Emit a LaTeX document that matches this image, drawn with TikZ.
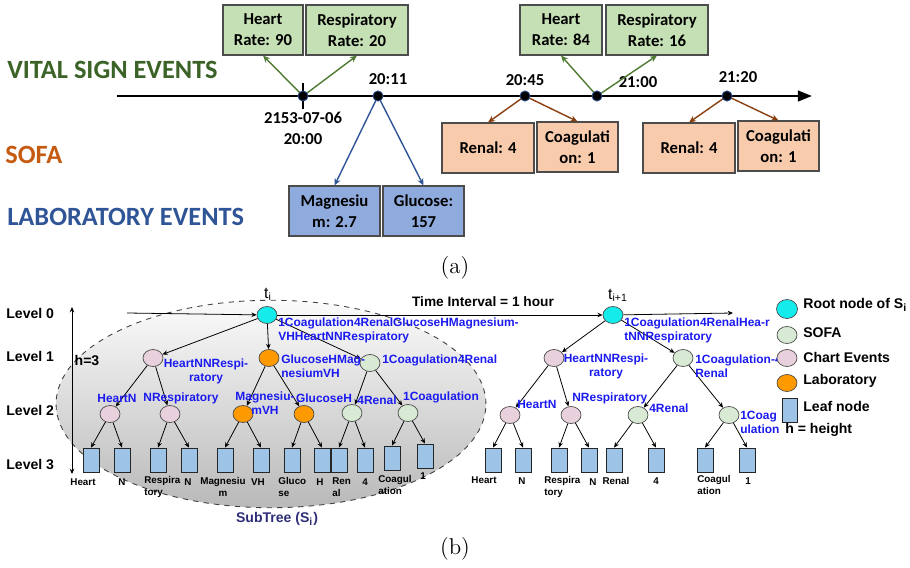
\documentclass[tikz,border=0pt]{standalone}
\usepackage{fontspec}
\setsansfont{Liberation Sans}
\newfontfamily\calibri{Carlito}
\usetikzlibrary{positioning,arrows.meta,shapes.geometric}
\definecolor{vitalgreen}{HTML}{3B6327}
\definecolor{vitalfill}{HTML}{C5E0B4}
\definecolor{vitalarrow}{HTML}{4F7A32}
\definecolor{sofaorange}{HTML}{C55A11}
\definecolor{sofafill}{HTML}{F8CBAD}
\definecolor{sofaarrow}{HTML}{8A3F10}
\definecolor{labblue}{HTML}{2F5597}
\definecolor{labfill}{HTML}{8FAADC}
\definecolor{rootcyan}{HTML}{14ECEC}
\definecolor{chartpink}{HTML}{E8D0DC}
\definecolor{sofagreen}{HTML}{D8EAD4}
\definecolor{laborange}{HTML}{FF9900}
\definecolor{leafblue}{HTML}{9DC3E6}
\definecolor{keyblue}{HTML}{1A1AF0}
\definecolor{subtreenavy}{HTML}{2E2E78}

\begin{document}
\begin{tikzpicture}[
    x=0.02cm, y=-0.02cm,
    >=Stealth,
    evbox/.style={
        draw=gray!60!black, line width=0.6pt,
        minimum height=1cm, inner sep=1pt, align=center,
        font=\calibri\bfseries\fontsize{9.5}{12}\selectfont
    },
    vitalbox/.style={evbox, fill=vitalfill},
    labbox/.style={evbox, fill=labfill},
    sofabox/.style={evbox, fill=sofafill},
    dot/.style={circle, fill=black, draw=labblue, line width=0.4pt,
        minimum size=0.2cm, inner sep=0pt},
    timelbl/.style={font=\calibri\bfseries\fontsize{9.5}{12}\selectfont,
        align=center, inner sep=0pt},
    grouplbl/.style={font=\calibri\bfseries\fontsize{15}{18}\selectfont,
        anchor=west, inner sep=0pt},
    evarr/.style={-{Stealth[length=4pt, width=3.5pt]}, line width=0.8pt, draw=#1},
    treenode/.style={ellipse, draw=gray!60!black, line width=0.4pt,
        minimum width=0.4cm, minimum height=0.34cm, inner sep=0pt},
    leaf/.style={rectangle, draw=black!85, fill=leafblue, line width=0.5pt,
        minimum width=0.32cm, minimum height=0.48cm, inner sep=0pt},
    edge/.style={-{Stealth[length=3pt, width=2.6pt]}, line width=0.45pt},
    keylbl/.style={font=\sffamily\bfseries\fontsize{6.8}{8}\selectfont,
        text=keyblue, inner sep=0pt},
    leaflbl/.style={font=\sffamily\bfseries\fontsize{5.6}{6.6}\selectfont,
        inner sep=0pt},
    levellbl/.style={font=\sffamily\bfseries\fontsize{8}{10}\selectfont,
        anchor=west, inner sep=0pt},
    legendlbl/.style={font=\sffamily\bfseries\fontsize{8}{10}\selectfont,
        anchor=west, inner sep=0pt},
]
\useasboundingbox (0,0) rectangle (910,568);

% === (a) timeline of events ===
\node[grouplbl, text=vitalgreen] (vitallbl) at (7,70) {VITAL SIGN EVENTS};
\node[grouplbl, text=sofaorange] (sofalbl) at (5,155) {SOFA};
\node[grouplbl, text=labblue] (lablbl) at (7,217) {LABORATORY EVENTS};

\coordinate (tlstart) at (117,96);
\coordinate (tlend) at (812,96);
\draw[line width=1.4pt, -{Triangle[length=8pt, width=6pt]}] (tlstart) -- (tlend);

\node[dot] (d0) at (303,96) {};
\node[dot] (d1) at (378,96) {};
\node[dot] (d2) at (525,96) {};
\node[dot] (d3) at (597,96) {};
\node[dot] (d4) at (727,96) {};
\draw[line width=1.4pt] ([yshift=0.26cm]d0.center) -- ([yshift=-0.26cm]d0.center);

% time stamps
\node[timelbl] (ts0) at (303,128) {2153-07-06\\20:00};
\node[timelbl] (ts1) at (388,79) {20:11};
\node[timelbl] (ts2) at (525,80) {20:45};
\node[timelbl] (ts3) at (638,82) {21:00};
\node[timelbl] (ts4) at (738,77) {21:20};

% vital signs
\node[vitalbox, minimum width=1.6cm] (hr1) at (263,30) {Heart\\Rate: 90};
\node[vitalbox, minimum width=2.04cm] (rr1) at (357,30) {Respiratory\\Rate: 20};
\node[vitalbox, minimum width=1.64cm] (hr2) at (561,30) {Heart\\Rate: 84};
\node[vitalbox, minimum width=2.04cm] (rr2) at (657,30) {Respiratory\\Rate: 16};

% laboratory
\node[labbox, minimum width=1.82cm] (mag) at (334.5,211) {Magnesiu\\m: 2.7};
\node[labbox, minimum width=1.62cm] (glu) at (423.5,211) {Glucose:\\157};

% sofa scores
\node[sofabox, minimum width=1.84cm] (ren1) at (488,148) {Renal: 4};
\node[sofabox, minimum width=1.62cm] (coa1) at (577.5,147) {Coagulati\\on: 1};
\node[sofabox, minimum width=1.84cm] (ren2) at (689,148) {Renal: 4};
\node[sofabox, minimum width=1.62cm] (coa2) at (778.5,146) {Coagulati\\on: 1};

\foreach \d/\b in {d0/hr1, d0/rr1, d3/hr2, d3/rr2}
    \draw[evarr=vitalarrow] (\d.center) -- (\b.south);
\foreach \d/\b in {d1/mag, d1/glu}
    \draw[evarr=labblue] (\d.center) -- (\b.north);
\foreach \d/\b in {d2/ren1, d2/coa1, d4/ren2, d4/coa2}
    \draw[evarr=sofaarrow] (\d.center) -- (\b.north);
\foreach \d in {d0,d1,d2,d3,d4}
    \node[dot] at (\d) {};

\node[font=\fontsize{13}{15}\selectfont] (capa) at (455,268) {(a)};

% === (b) sub-tree per time interval ===
\node[ellipse, dashed, draw=black!75, line width=0.5pt,
    top color=gray!3, bottom color=gray!55,
    minimum width=8.6cm, minimum height=4.15cm] (subtree) at (271,404) {};
\node[font=\sffamily\bfseries\fontsize{8}{10}\selectfont, text=subtreenavy]
    (subtreelbl) at (277,519) {SubTree (S\textsubscript{i})};

% levels and height
\node[levellbl] (lv0) at (6,313) {Level 0};
\node[levellbl] (lv1) at (6,356) {Level 1};
\node[levellbl] (lv2) at (6,410) {Level 2};
\node[levellbl] (lv3) at (6,464) {Level 3};
\coordinate (htop) at (72,307);
\coordinate (hbot) at (72,474);
\draw[{Stealth[length=3pt, width=2.6pt]}-{Stealth[length=3pt, width=2.6pt]}, line width=0.5pt] (htop) -- (hbot);
\node[font=\sffamily\bfseries\fontsize{8}{10}\selectfont, inner sep=0pt] (hlbl) at (87,360) {h=3};

% roots
\node[treenode, fill=rootcyan] (rootA) at (267,315) {};
\node[treenode, fill=rootcyan] (rootB) at (613,315) {};
\node[font=\sffamily\fontsize{9}{10}\selectfont, inner sep=0pt] (tA) at (268,294) {t\textsubscript{i}};
\node[font=\sffamily\fontsize{9}{10}\selectfont, inner sep=0pt] (tB) at (618,295) {t\textsubscript{i+1}};

\coordinate (tstart) at (127,313);
\coordinate (tend) at (733,313);
\draw[edge] (tstart) -- (rootA);
\draw[edge] (rootA) -- (rootB);
\draw[edge] (rootB) -- (tend);
\node[font=\sffamily\bfseries\fontsize{7.8}{9}\selectfont, inner sep=0pt]
    (interval) at (483,302) {Time Interval = 1 hour};

% left tree
\node[treenode, fill=chartpink] (a1) at (153,358) {};
\node[treenode, fill=laborange] (a2) at (269,358) {};
\node[treenode, fill=sofagreen] (a3) at (370,363) {};
\node[treenode, fill=chartpink] (a11) at (110,414) {};
\node[treenode, fill=chartpink] (a12) at (170,414) {};
\node[treenode, fill=laborange] (a21) at (243,414) {};
\node[treenode, fill=laborange] (a22) at (304,414) {};
\node[treenode, fill=sofagreen] (a31) at (352,413) {};
\node[treenode, fill=sofagreen] (a32) at (408,413) {};
\foreach \x/\y [count=\i] in {91/460, 122/460, 158/460, 189/460, 225/460, 261/460,
        292/460, 322/460, 339/460, 365/460, 392/458, 425/456}
    \node[leaf] (la\i) at (\x,\y) {};

\foreach \a/\b in {rootA/a1, rootA/a2, rootA/a3, a1/a11, a1/a12,
        a2/a21, a2/a22, a3/a31, a3/a32}
    \draw[edge] (\a) -- (\b);
\foreach \a/\b in {a11/la1, a11/la2, a12/la3, a12/la4, a21/la5, a21/la6,
        a22/la7, a22/la8, a31/la9, a31/la10, a32/la11, a32/la12}
    \draw[edge] (\a) -- (\b.north);

% right tree
\node[treenode, fill=chartpink] (b1) at (554,358) {};
\node[treenode, fill=sofagreen] (b2) at (683,358) {};
\node[treenode, fill=chartpink] (b11) at (510,415) {};
\node[treenode, fill=chartpink] (b12) at (571,415) {};
\node[treenode, fill=sofagreen] (b21) at (638,415) {};
\node[treenode, fill=sofagreen] (b22) at (729,415) {};
\foreach \x [count=\i] in {493, 523, 559, 589, 614, 656, 705, 747}
    \node[leaf] (lb\i) at (\x,460) {};

\foreach \a/\b in {rootB/b1, rootB/b2, b1/b11, b1/b12, b2/b21, b2/b22}
    \draw[edge] (\a) -- (\b);
\foreach \a/\b in {b11/lb1, b11/lb2, b12/lb3, b12/lb4, b21/lb5, b21/lb6,
        b22/lb7, b22/lb8}
    \draw[edge] (\a) -- (\b.north);

% node keys (left)
\node[keylbl, anchor=west, align=left] (kA) at (278,330)
    {1Coagulation4RenalGlucoseHMagnesium-\\VHHeartNNRespiratory};
\node[keylbl, align=center] (ka1) at (206,371) {HeartNNRespi-\\ratory};
\node[keylbl, anchor=west, align=left] (ka2) at (281,366) {GlucoseHMag-\\nesiumVH};
\node[keylbl, anchor=west] (ka3) at (382,360) {1Coagulation4Renal};
\node[keylbl] (ka11) at (117,398) {HeartN};
\node[keylbl] (ka12) at (181,398) {NRespiratory};
\node[keylbl, align=center] (ka21) at (265,403) {Magnesiu-\\mVH};
\node[keylbl] (ka22) at (324,398) {GlucoseH};
\node[keylbl] (ka31) at (377,400) {4Renal};
\node[keylbl] (ka32) at (441,397) {1Coagulation};

% node keys (right)
\node[keylbl, anchor=west, align=left] (kB) at (624,330)
    {1Coagulation4RenalHea-r\\tNNRespiratory};
\node[keylbl, align=center] (kb1) at (606,366) {HeartNNRespi-\\ratory};
\node[keylbl, anchor=west, align=left] (kb2) at (695,366) {1Coagulation-4\\Renal};
\node[keylbl, anchor=west] (kb11) at (517,404) {HeartN};
\node[keylbl, anchor=west] (kb12) at (572,398) {NRespiratory};
\node[keylbl, anchor=west] (kb21) at (649,408) {4Renal};
\node[keylbl, anchor=west, align=left] (kb22) at (740,422) {1Coag\\ulation};

% leaf texts
\node[leaflbl] (ta1) at (83,482) {Heart};
\node[leaflbl] (ta2) at (122,482) {N};
\node[leaflbl, anchor=west, align=left] (ta3) at (144,487) {Respira\\tory};
\node[leaflbl] (ta4) at (188,482) {N};
\node[leaflbl, align=center] (ta5) at (223,487) {Magnesiu\\m};
\node[leaflbl] (ta6) at (258,482) {VH};
\node[leaflbl, anchor=west, align=left] (ta7) at (278,487) {Gluco\\se};
\node[leaflbl] (ta8) at (320,482) {H};
\node[leaflbl, anchor=west, align=left] (ta9) at (332,487) {Ren\\al};
\node[leaflbl] (ta10) at (365,482) {4};
\node[leaflbl, anchor=west, align=left] (ta11) at (378,485) {Coagul\\ation};
\node[leaflbl] (ta12) at (423,476) {1};

\node[leaflbl] (tb1) at (484,480) {Heart};
\node[leaflbl] (tb2) at (522,481) {N};
\node[leaflbl, anchor=west, align=left] (tb3) at (544,487) {Respira\\tory};
\node[leaflbl] (tb4) at (593,482) {N};
\node[leaflbl] (tb5) at (616,481) {Renal};
\node[leaflbl] (tb6) at (656,481) {4};
\node[leaflbl, anchor=west, align=left] (tb7) at (697,485) {Coagul\\ation};
\node[leaflbl] (tb8) at (748,481) {1};

% === Legend ===
\node[treenode, fill=rootcyan, minimum width=0.42cm, minimum height=0.38cm] (kroot) at (787,309) {};
\node[treenode, fill=sofagreen] (ksofa) at (787,335) {};
\node[treenode, fill=chartpink] (kchart) at (787,358) {};
\node[treenode, fill=laborange] (klab) at (787,383) {};
\node[leaf, minimum width=0.3cm] (kleaf) at (790,410) {};
\node[legendlbl] at (803,305) {Root node of S\textsubscript{i}};
\node[legendlbl] at (803,333) {SOFA};
\node[legendlbl] at (803,357) {Chart Events};
\node[legendlbl] at (803,381) {Laboratory};
\node[legendlbl] at (803,406) {Leaf node};
\node[legendlbl] at (785,430) {h = height};

\node[font=\fontsize{13}{15}\selectfont] (capb) at (455,549) {(b)};
\end{tikzpicture}
\end{document}
